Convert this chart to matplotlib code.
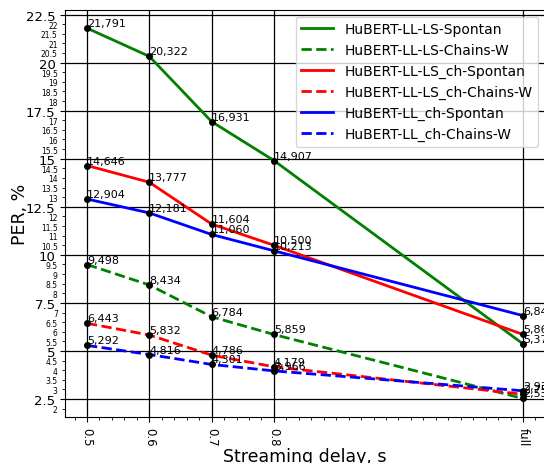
import matplotlib
matplotlib.use("Agg")
import matplotlib.pyplot as plt
from matplotlib.ticker import MultipleLocator, FormatStrFormatter

# streaming delays, "full" is put at 1.2
delays = [0.5, 0.6, 0.7, 0.8, 1.2]
delay_labels = ["0.5", "0.6", "0.7", "0.8", "full"]

ll_ls_spontan = [21.791, 20.322, 16.931, 14.907, 5.37]
ll_ls_chains = [9.498, 8.434, 6.784, 5.859, 2.53]
ll_ls_ch_spontan = [14.646, 13.777, 11.604, 10.500, 5.86]
ll_ls_ch_chains = [6.443, 5.832, 4.786, 4.179, 2.75]
ll_ch_spontan = [12.904, 12.181, 11.060, 10.213, 6.84]
ll_ch_chains = [5.292, 4.816, 4.301, 3.966, 2.93]

series = [
    ("HuBERT-LL-LS-Spontan", ll_ls_spontan, "green", "-"),
    ("HuBERT-LL-LS-Chains-W", ll_ls_chains, "green", "--"),
    ("HuBERT-LL-LS_ch-Spontan", ll_ls_ch_spontan, "red", "-"),
    ("HuBERT-LL-LS_ch-Chains-W", ll_ls_ch_chains, "red", "--"),
    ("HuBERT-LL_ch-Spontan", ll_ch_spontan, "blue", "-"),
    ("HuBERT-LL_ch-Chains-W", ll_ch_chains, "blue", "--"),
]

fig = plt.figure(figsize=(5.44, 4.64), dpi=100)
ax = fig.add_axes([0.1199, 0.0991, 0.8816, 0.878])

for name, vals, col, ls in series:
    ax.plot(delays, vals, color=col, linestyle=ls, linewidth=2, label=name)
    ax.plot(delays, vals, "o", color="black", markersize=4)
    for i, (x, y) in enumerate(zip(delays, vals)):
        if i == len(vals) - 1:
            s = f"{y:.2f}"
        else:
            s = f"{y:.3f}"
        ax.text(x, y, s.replace(".", ","), fontsize=8, ha="left", va="bottom")

ax.set_xticks(delays)
ax.set_xticklabels(delay_labels, rotation=-90, fontsize=8.5)
ax.xaxis.set_minor_locator(MultipleLocator(0.02))

ax.yaxis.set_major_locator(MultipleLocator(2.5))
ax.yaxis.set_minor_locator(MultipleLocator(0.5))
ax.yaxis.set_minor_formatter(FormatStrFormatter("%g"))
ax.yaxis.set_major_formatter(FormatStrFormatter("%g"))
ax.tick_params(axis="y", which="major", labelsize=9.5)
ax.tick_params(axis="y", which="minor", labelsize=5.5)

ax.grid(True, which="major", color="black", linewidth=0.9)

ax.set_xlabel("Streaming delay, s", fontsize=12.5, labelpad=1)
ax.set_ylabel("PER, %", fontsize=12.5, labelpad=-2)
ax.legend(loc="upper right", fontsize=10, handlelength=2.3)

fig.savefig("out.png", dpi=100)
